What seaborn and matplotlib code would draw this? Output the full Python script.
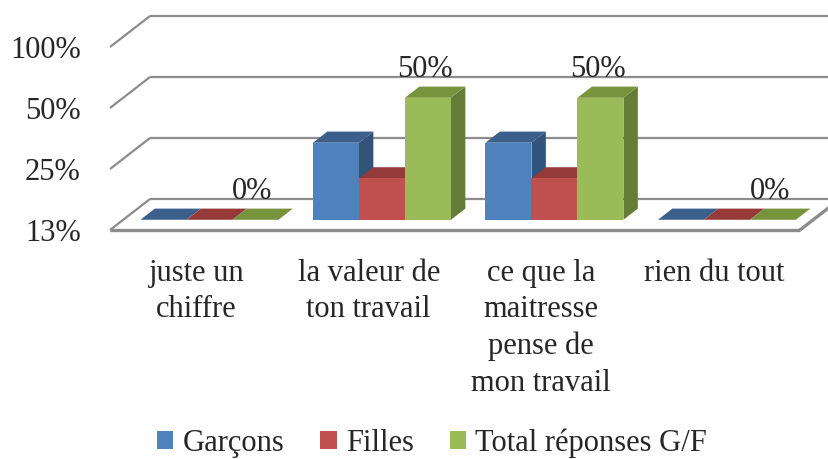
import matplotlib
matplotlib.use("Agg")
import matplotlib.pyplot as plt
from matplotlib.patches import Polygon, Patch
from matplotlib.lines import Line2D
from matplotlib.transforms import IdentityTransform, ScaledTranslation
import numpy as np
import pandas as pd
import seaborn as sns

categories = ["juste un\nchiffre", "la valeur de\nton travail",
              "ce que la\nmaitresse\npense de\nmon travail", "rien du tout"]
series = ["Garçons", "Filles", "Total réponses G/F"]
garcons = [0.0, 0.30, 0.30, 0.0]
filles = [0.0, 0.20, 0.20, 0.0]
total = [0.0, 0.50, 0.50, 0.0]
yticks = [0.125, 0.25, 0.5, 1.0]

front_cols = ["#4F81BD", "#C0504D", "#9BBB59"]
top_cols = ["#3C5F8C", "#953A38", "#77933C"]
side_cols = ["#335479", "#7F302E", "#667D37"]
GRID = "#8C8C8C"

DPI = 100
DEPTH = np.array([40.0, 31.0])   # pixel offset front plane -> back wall
D0, D1 = 0.33, 0.69              # depth of bar front / back


def pct(v):
    return f"{int(v * 100 + 0.5)}%"


df = pd.DataFrame({
    "cat": categories * 3,
    "serie": np.repeat(series, len(categories)),
    "val": garcons + filles + total,
})

sns.set_style("white")
plt.rcParams["font.family"] = ["Liberation Serif", "DejaVu Serif"]

fig = plt.figure(figsize=(8.29, 4.59), dpi=DPI)
# front plane of the 3d box
ax = fig.add_axes([110 / 829, 229 / 459, 690 / 829, 183 / 459])
sns.barplot(data=df, x="cat", y="val", hue="serie", order=categories,
            hue_order=series, palette=front_cols, saturation=1, width=0.8,
            gap=0, legend=False, linewidth=0, ax=ax)

ax.set_yscale("log", base=2)
ax.set_xlim(-0.5, 3.5)
ax.set_ylim(yticks[0], yticks[-1])
floor = yticks[0]


def px(x, y, d):
    return ax.transData.transform((x, y)) + d * DEPTH


def gline(p, q, lw=1.6):
    ax.add_line(Line2D([p[0], q[0]], [p[1], q[1]], color=GRID, lw=lw,
                       transform=IdentityTransform(), clip_on=False,
                       zorder=0.5, solid_capstyle="butt"))


# walls
for v in yticks:
    gline(px(-0.5, v, 1), px(3.5, v, 1))
    gline(px(-0.5, v, 0), px(-0.5, v, 1))
gline(px(-0.5, floor, 0), px(3.5, floor, 0), lw=2.4)
gline(px(3.5, floor, 0), px(3.5, floor, 1), lw=2.4)

# bars with depth, drawn left to right
bars = []
for i, cont in enumerate(ax.containers):
    for p in cont.patches:
        bars.append((p.get_x(), i, p))
bars.sort(key=lambda b: b[0])

shift = ScaledTranslation(D0 * DEPTH[0] / DPI, D0 * DEPTH[1] / DPI, fig.dpi_scale_trans)
for k, (x0, i, p) in enumerate(bars):
    w = p.get_width()
    v = max(p.get_height(), floor)
    p.set_y(floor)
    p.set_height(v - floor)
    p.set_transform(ax.transData + shift)
    p.set_clip_on(False)
    z = 2 + 3 * k
    p.set_zorder(z + 2)
    side = [px(x0 + w, floor, D0), px(x0 + w, v, D0), px(x0 + w, v, D1), px(x0 + w, floor, D1)]
    top = [px(x0, v, D0), px(x0 + w, v, D0), px(x0 + w, v, D1), px(x0, v, D1)]
    ax.add_patch(Polygon(side, closed=True, facecolor=side_cols[i], edgecolor="none",
                         transform=IdentityTransform(), clip_on=False, zorder=z))
    ax.add_patch(Polygon(top, closed=True, facecolor=top_cols[i], edgecolor="none",
                         transform=IdentityTransform(), clip_on=False, zorder=z + 1))

# value labels on the total series
for p, v in zip(ax.containers[2].patches, total):
    top_v = max(v, floor)
    ax.annotate(pct(v), xy=(p.get_x() + p.get_width() / 2, top_v), xycoords="data",
                xytext=(D0 * DEPTH[0] - 3, D0 * DEPTH[1] + 28), textcoords="offset pixels",
                ha="center", va="center", fontsize=22, zorder=100)

ax.set_yticks(yticks, [pct(v) for v in yticks])
ax.set_xlabel("")
ax.set_ylabel("")
ax.tick_params(axis="y", length=0, pad=21, labelsize=22)
ax.tick_params(axis="x", length=0, pad=21, labelsize=22)
for lab in ax.get_xticklabels():
    lab.set_linespacing(1.33)
for s in ax.spines.values():
    s.set_visible(False)
ax.patch.set_visible(False)
ax.grid(False)

handles = [Patch(facecolor=c, edgecolor="none") for c in front_cols]
fig.legend(handles, series, loc="center", bbox_to_anchor=(432 / 829, 1 - 443 / 459),
           ncol=3, frameon=False, fontsize=22, handlelength=0.53, handleheight=0.53,
           handletextpad=0.3, columnspacing=1.18, borderaxespad=0, borderpad=0)

fig.savefig("out.png", dpi=DPI)
